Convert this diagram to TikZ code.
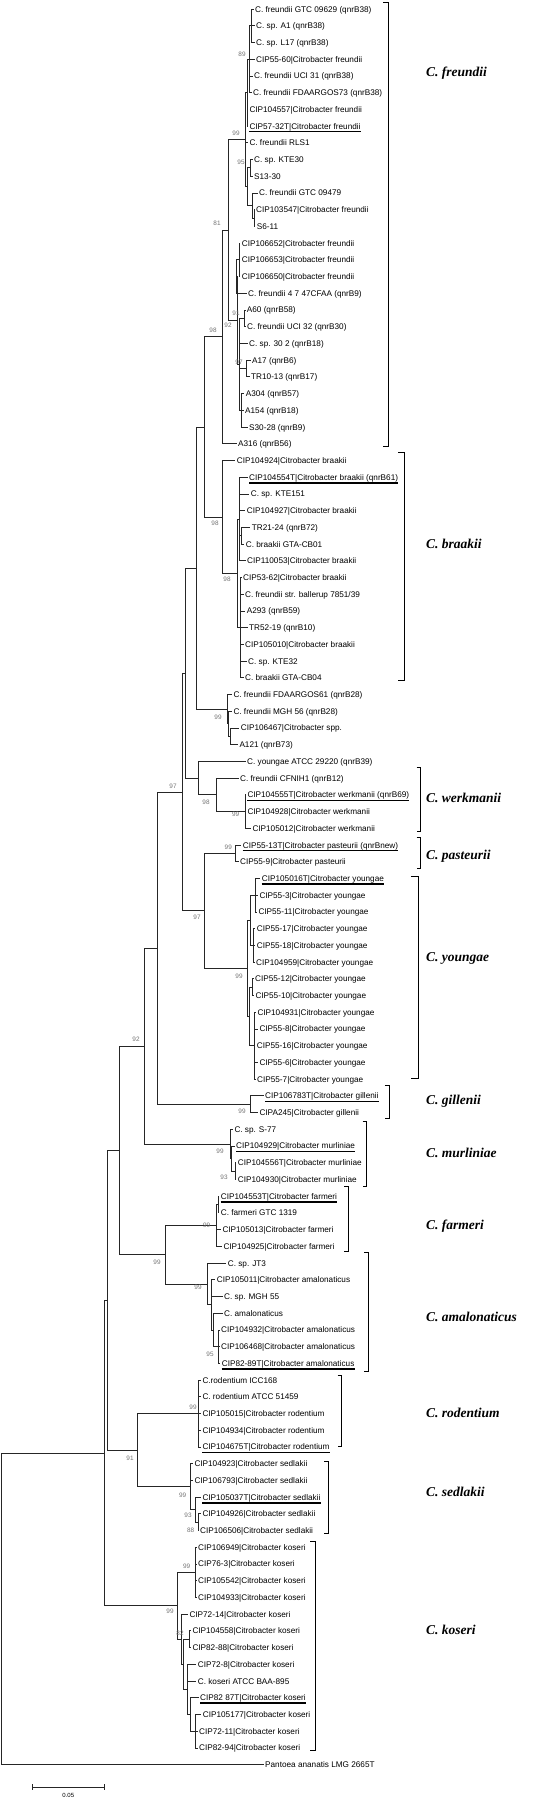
\documentclass[tikz,border=0pt]{standalone}
\usepackage{fontspec}
\setmainfont{Liberation Sans}
\newfontfamily\serifbf{Liberation Serif}
\usetikzlibrary{calc}
\newcommand\lf[3]{%
  \coordinate (L#1) at ({#2-1.5},{9+16.72*#1});
  \node[lab] (T#1) at ({#2},{9+16.72*#1}) {#3};}
\newcommand\nd[5]{%
  \path ($(#3)!0.5!(#4)$) coordinate (m#1);
  \coordinate (#1) at (#2,0 |- m#1);
  \foreach \cc in {#5} {\draw[br] (#1) |- (\cc);}}
\newcommand\ulx[1]{\draw[ul] ([yshift=-2.6pt]T#1.base west) -- ([yshift=-2.6pt]T#1.base east);}
\newcommand\bsup[4]{\node[bs] (#1) at (#2,#3) {#4};}
\newcommand\brak[4]{\draw[brk] ({#1-#4},#2) -- (#1,#2) -- (#1,#3) -- ({#1-#4},#3);}
\begin{document}
\begin{tikzpicture}[x=1pt,y=-1pt,
  br/.style={line width=0.75pt, draw=black!85},
  lab/.style={anchor=base west, inner sep=0pt, yshift=-3pt, font=\fontsize{8.2}{10}\selectfont},
  bs/.style={inner sep=0pt, font=\fontsize{6.4}{7}\selectfont, text=black!55},
  ul/.style={line width=1.7pt},
  brk/.style={line width=0.8pt},
  clade/.style={anchor=west, inner sep=0pt, font=\serifbf\bfseries\itshape\fontsize{13.5}{15}\selectfont}]
\useasboundingbox (0,0) rectangle (557,1799);
% leaves
\lf{0}{255}{C. freundii GTC 09629 (qnrB38)}
\lf{1}{256}{C. sp. A1 (qnrB38)}
\lf{2}{256}{C. sp. L17 (qnrB38)}
\lf{3}{256}{CIP55-60|Citrobacter freundii}
\lf{4}{254}{C. freundii UCI 31 (qnrB38)}
\lf{5}{253}{C. freundii FDAARGOS73 (qnrB38)}
\lf{6}{249.3}{CIP104557|Citrobacter freundii}
\lf{7}{249.3}{CIP57-32T|Citrobacter freundii}
\lf{8}{249.3}{C. freundii RLS1}
\lf{9}{254}{C. sp. KTE30}
\lf{10}{254}{S13-30}
\lf{11}{259}{C. freundii GTC 09479}
\lf{12}{256}{CIP103547|Citrobacter freundii}
\lf{13}{256.7}{S6-11}
\lf{14}{241.7}{CIP106652|Citrobacter freundii}
\lf{15}{241.7}{CIP106653|Citrobacter freundii}
\lf{16}{241.7}{CIP106650|Citrobacter freundii}
\lf{17}{248}{C. freundii 4 7 47CFAA (qnrB9)}
\lf{18}{246.7}{A60 (qnrB58)}
\lf{19}{247}{C. freundii UCI 32 (qnrB30)}
\lf{20}{249}{C. sp. 30 2 (qnrB18)}
\lf{21}{252}{A17 (qnrB6)}
\lf{22}{251}{TR10-13 (qnrB17)}
\lf{23}{245.7}{A304 (qnrB57)}
\lf{24}{245}{A154 (qnrB18)}
\lf{25}{249}{S30-28 (qnrB9)}
\lf{26}{238}{A316 (qnrB56)}
\lf{27}{236.7}{CIP104924|Citrobacter braakii}
\lf{28}{249}{CIP104554T|Citrobacter braakii (qnrB61)}
\lf{29}{250.7}{C. sp. KTE151}
\lf{30}{246.7}{CIP104927|Citrobacter braakii}
\lf{31}{251.7}{TR21-24 (qnrB72)}
\lf{32}{245.7}{C. braakii GTA-CB01}
\lf{33}{247}{CIP110053|Citrobacter braakii}
\lf{34}{243}{CIP53-62|Citrobacter braakii}
\lf{35}{245}{C. freundii str. ballerup 7851/39}
\lf{36}{246.7}{A293 (qnrB59)}
\lf{37}{249}{TR52-19 (qnrB10)}
\lf{38}{245}{CIP105010|Citrobacter braakii}
\lf{39}{248}{C. sp. KTE32}
\lf{40}{245}{C. braakii GTA-CB04}
\lf{41}{233.3}{C. freundii FDAARGOS61 (qnrB28)}
\lf{42}{233.3}{C. freundii MGH 56 (qnrB28)}
\lf{43}{240.7}{CIP106467|Citrobacter spp.}
\lf{44}{239.3}{A121 (qnrB73)}
\lf{45}{247}{C. youngae ATCC 29220 (qnrB39)}
\lf{46}{240}{C. freundii CFNIH1 (qnrB12)}
\lf{47}{247.3}{CIP104555T|Citrobacter werkmanii (qnrB69)}
\lf{48}{247.3}{CIP104928|Citrobacter werkmanii}
\lf{49}{252.3}{CIP105012|Citrobacter werkmanii}
\lf{50}{242.7}{CIP55-13T|Citrobacter pasteurii (qnrBnew)}
\lf{51}{240}{CIP55-9|Citrobacter pasteurii}
\lf{52}{261.7}{CIP105016T|Citrobacter youngae}
\lf{53}{259.3}{CIP55-3|Citrobacter youngae}
\lf{54}{258.3}{CIP55-11|Citrobacter youngae}
\lf{55}{256.7}{CIP55-17|Citrobacter youngae}
\lf{56}{256.7}{CIP55-18|Citrobacter youngae}
\lf{57}{256}{CIP104959|Citrobacter youngae}
\lf{58}{255}{CIP55-12|Citrobacter youngae}
\lf{59}{255.3}{CIP55-10|Citrobacter youngae}
\lf{60}{257.3}{CIP104931|Citrobacter youngae}
\lf{61}{259.3}{CIP55-8|Citrobacter youngae}
\lf{62}{256.7}{CIP55-16|Citrobacter youngae}
\lf{63}{259.3}{CIP55-6|Citrobacter youngae}
\lf{64}{257}{CIP55-7|Citrobacter youngae}
\lf{65}{265}{CIP106783T|Citrobacter gillenii}
\lf{66}{259.3}{CIPA245|Citrobacter gillenii}
\lf{67}{234.3}{C. sp. S-77}
\lf{68}{236}{CIP104929|Citrobacter murliniae}
\lf{69}{237.7}{CIP104556T|Citrobacter murliniae}
\lf{70}{237.7}{CIP104930|Citrobacter murliniae}
\lf{71}{220.7}{CIP104553T|Citrobacter farmeri}
\lf{72}{220.7}{C. farmeri GTC 1319}
\lf{73}{222.3}{CIP105013|Citrobacter farmeri}
\lf{74}{223.3}{CIP104925|Citrobacter farmeri}
\lf{75}{227.7}{C. sp. JT3}
\lf{76}{216.7}{CIP105011|Citrobacter amalonaticus}
\lf{77}{224}{C. sp. MGH 55}
\lf{78}{224}{C. amalonaticus}
\lf{79}{221}{CIP104932|Citrobacter amalonaticus}
\lf{80}{221}{CIP106468|Citrobacter amalonaticus}
\lf{81}{221.7}{CIP82-89T|Citrobacter amalonaticus}
\lf{82}{202.3}{C.rodentium ICC168}
\lf{83}{202.3}{C. rodentium ATCC 51459}
\lf{84}{202.3}{CIP105015|Citrobacter rodentium}
\lf{85}{202.3}{CIP104934|Citrobacter rodentium}
\lf{86}{202.3}{CIP104675T|Citrobacter rodentium}
\lf{87}{194.3}{CIP104923|Citrobacter sedlakii}
\lf{88}{194.3}{CIP106793|Citrobacter sedlakii}
\lf{89}{202.3}{CIP105037T|Citrobacter sedlakii}
\lf{90}{202.3}{CIP104926|Citrobacter sedlakii}
\lf{91}{200}{CIP106506|Citrobacter sedlakii}
\lf{92}{198}{CIP106949|Citrobacter koseri}
\lf{93}{198}{CIP76-3|Citrobacter koseri}
\lf{94}{198}{CIP105542|Citrobacter koseri}
\lf{95}{198}{CIP104933|Citrobacter koseri}
\lf{96}{189.3}{CIP72-14|Citrobacter koseri}
\lf{97}{192.3}{CIP104558|Citrobacter koseri}
\lf{98}{192.3}{CIP82-88|Citrobacter koseri}
\lf{99}{197.7}{CIP72-8|Citrobacter koseri}
\lf{100}{197.7}{C. koseri ATCC BAA-895}
\lf{101}{200}{CIP82 87T|Citrobacter koseri}
\lf{102}{202.7}{CIP105177|Citrobacter koseri}
\lf{103}{199}{CIP72-11|Citrobacter koseri}
\lf{104}{199}{CIP82-94|Citrobacter koseri}
\lf{105}{265}{Pantoea ananatis LMG 2665T}
% internal nodes
\nd{na}{251}{L0}{L2}{L0,L1,L2}
\nd{nb}{249.5}{na}{L5}{na,L3,L4,L5}
\nd{nbb}{247}{nb}{L7}{nb,L6,L7}
\nd{nd}{250.5}{L9}{L10}{L9,L10}
\nd{nf}{254}{L12}{L13}{L12,L13}
\nd{ne}{252}{L11}{nf}{L11,nf}
\nd{ng}{247}{nd}{ne}{nd,ne}
\nd{nc}{245.5}{nbb}{ng}{nbb,L8,ng}
\nd{ni}{239}{L14}{L16}{L14,L15,L16}
\nd{nj}{236.5}{ni}{L17}{ni,L17}
\nd{nk}{244.5}{L18}{L19}{L18,L19}
\nd{nl}{246.7}{L21}{L22}{L21,L22}
\nd{nr}{241}{L23}{L25}{L23,L24,L25}
\nd{nm}{239.5}{nk}{nr}{nk,L20,nl,nr}
\nd{nn}{237.5}{nj}{nm}{nj,nm}
\nd{nq}{228}{nc}{nn}{nc,nn}
\nd{no}{222}{nq}{L26}{nq,L26}
\nd{nwa}{241.5}{L31}{L32}{L31,L32}
\nd{nva}{239.5}{L28}{L33}{L28,L29,L30,nwa,L33}
\nd{nvb}{240.5}{L34}{L40}{L34,L35,L36,L37,L38,L39,L40}
\nd{nu}{237}{nva}{nvb}{nva,nvb}
\nd{ns}{222.7}{L27}{nu}{L27,nu}
\nd{nt}{204}{no}{ns}{no,ns}
\nd{nz}{230.7}{L43}{L44}{L43,L44}
\nd{nxb}{228.7}{L42}{nz}{L42,nz}
\nd{nxa}{227.5}{L41}{nxb}{L41,nxb}
\nd{ny}{196.7}{nt}{nxa}{nt,nxa}
\nd{nV}{245}{L47}{L49}{L47,L48,L49}
\nd{nW}{216.7}{L46}{nV}{L46,nV}
\nd{nZ}{198}{L45}{nW}{L45,nW}
\nd{nY}{185.7}{ny}{nZ}{ny,nZ}
\nd{nP}{235}{L50}{L51}{L50,L51}
\nd{nQa}{255}{L52}{L54}{L52,L53,L54}
\nd{nQb}{253}{L55}{L57}{L55,L56,L57}
\nd{nQc}{252}{L58}{L59}{L58,L59}
\nd{nQd}{254}{L60}{L64}{L60,L61,L62,L63,L64}
\nd{nQe}{250}{nQa}{nQb}{nQa,nQb}
\nd{nQf}{249.5}{nQc}{nQd}{nQc,nQd}
\nd{nQ}{247}{nQe}{nQf}{nQe,nQf}
\nd{nPQ}{204}{nP}{nQ}{nP,nQ}
\nd{nA}{182}{nY}{nPQ}{nY,nPQ}
\nd{nG}{250}{L65}{L66}{L65,L66}
\nd{nB}{157}{nA}{nG}{nA,nG}
\nd{nMb}{235}{L69}{L70}{L69,L70}
\nd{nMa}{231.7}{L68}{nMb}{L68,nMb}
\nd{nM}{230}{L67}{nMa}{L67,nMa}
\nd{nC}{144}{nB}{nM}{nB,nM}
\nd{nFa}{218}{L71}{L72}{L71,L72}
\nd{nF}{216.7}{nFa}{L74}{nFa,L73,L74}
\nd{nAd}{218.3}{L79}{L81}{L79,L80,L81}
\nd{nAc}{213}{L78}{nAd}{L78,nAd}
\nd{nAb}{211.7}{L76}{nAc}{L76,L77,nAc}
\nd{nAm}{207}{L75}{nAb}{L75,nAb}
\nd{nD}{165.7}{nF}{nAm}{nF,nAm}
\nd{nE}{119}{nC}{nD}{nC,nD}
\nd{nR}{198}{L82}{L86}{L82,L83,L84,L85,L86}
\nd{nSc}{198}{L90}{L91}{L90,L91}
\nd{nSb}{195.7}{L89}{nSc}{L89,nSc}
\nd{nS}{190}{L87}{nSb}{L87,L88,nSb}
\nd{nH}{137}{nR}{nS}{nR,nS}
\nd{nJ}{107}{nE}{nH}{nE,nH}
\nd{nKa}{195}{L92}{L95}{L92,L93,L94,L95}
\nd{nKc}{189.3}{L97}{L98}{L97,L98}
\nd{nKg}{195}{L102}{L104}{L102,L103,L104}
\nd{nKf}{190}{L101}{nKg}{L101,nKg}
\nd{nKe}{187}{L99}{nKf}{L99,L100,nKf}
\nd{nKd}{183}{nKc}{nKe}{nKc,nKe}
\nd{nKb}{181}{L96}{nKd}{L96,nKd}
\nd{nK}{177}{nKa}{nKb}{nKa,nKb}
\nd{nI}{104.3}{nJ}{nK}{nJ,nK}
\nd{root}{1}{nI}{L105}{nI,L105}
% underlines of type strains
\ulx{7}\ulx{28}\ulx{47}\ulx{50}\ulx{52}\ulx{65}\ulx{68}\ulx{71}\ulx{81}\ulx{86}\ulx{89}\ulx{101}
% bootstrap values
\bsup{s1}{242}{54}{89}
\bsup{s2}{236}{133}{99}
\bsup{s3}{241}{162}{95}
\bsup{s4}{217}{223}{81}
\bsup{s5}{236}{313}{91}
\bsup{s6}{228}{325}{92}
\bsup{s7}{213}{330}{98}
\bsup{s8}{239}{362}{97}
\bsup{s9}{215}{523}{98}
\bsup{s10}{227}{579}{98}
\bsup{s11}{218}{717}{99}
\bsup{s12}{173}{786}{97}
\bsup{s13}{206}{802}{98}
\bsup{s14}{235.7}{814.3}{99}
\bsup{s15}{228.3}{847}{99}
\bsup{s16}{197}{917}{97}
\bsup{s17}{239}{976}{99}
\bsup{s18}{136}{1039}{92}
\bsup{s19}{242}{1111.7}{99}
\bsup{s20}{220}{1151.7}{99}
\bsup{s21}{224}{1177.3}{93}
\bsup{s22}{206.7}{1225}{99}
\bsup{s23}{157}{1262}{99}
\bsup{s24}{198}{1287}{99}
\bsup{s25}{210}{1354.3}{95}
\bsup{s26}{193}{1407}{99}
\bsup{s27}{130}{1458}{91}
\bsup{s28}{182.7}{1495.7}{99}
\bsup{s29}{188}{1515}{93}
\bsup{s30}{190.7}{1530}{88}
\bsup{s31}{186.7}{1566}{99}
\bsup{s32}{170}{1611}{99}
\bsup{s33}{180}{1633}{82}
% clade brackets
\brak{388.3}{2}{446.7}{5}
\brak{404}{452}{680}{6}
\brak{420.7}{767}{831.7}{4}
\brak{420.7}{837.3}{868.3}{4}
\brak{418.3}{876}{1078.3}{7.5}
\brak{389.3}{1085.7}{1118.3}{4.5}
\brak{366.7}{1121.7}{1186.7}{4}
\brak{348.3}{1186}{1251.7}{4}
\brak{368.3}{1252.3}{1371.7}{4}
\brak{341.7}{1375}{1446.7}{4}
\brak{328.3}{1461.7}{1533.3}{4}
\brak{315}{1541}{1750}{5}
% clade names
\node[clade] (c1) at (426,73.3) {C. freundii};
\node[clade] (c2) at (426,544.3) {C. braakii};
\node[clade] (c3) at (426,798) {C. werkmanii};
\node[clade] (c4) at (426,856.7) {C. pasteurii};
\node[clade] (c5) at (426,958.3) {C. youngae};
\node[clade] (c6) at (426,1101.7) {C. gillenii};
\node[clade] (c7) at (426,1152.7) {C. murliniae};
\node[clade] (c8) at (426,1226) {C. farmeri};
\node[clade] (c9) at (426,1316.7) {C. amalonaticus};
\node[clade] (c10) at (426,1413.3) {C. rodentium};
\node[clade] (c11) at (426,1491.7) {C. sedlakii};
\node[clade] (c12) at (426,1630) {C. koseri};
% scale bar
\coordinate (sb1) at (32.3,1787);
\coordinate (sb2) at (104.3,1787);
\draw[br] (sb1) -- (sb2);
\draw[br] ([yshift=3pt]sb1) -- ([yshift=-3pt]sb1);
\draw[br] ([yshift=3pt]sb2) -- ([yshift=-3pt]sb2);
\node[inner sep=0pt, font=\fontsize{6}{7}\selectfont] (sbl) at (68.3,1795.5) {0.05};
\end{tikzpicture}
\end{document}
